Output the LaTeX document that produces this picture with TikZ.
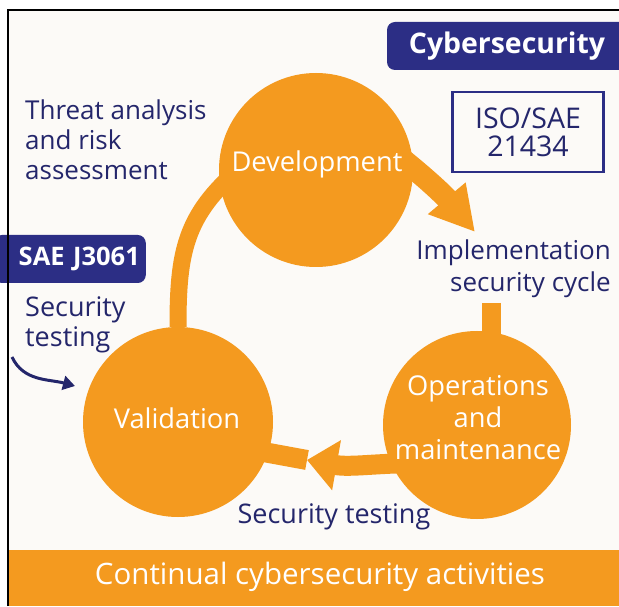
\documentclass[tikz,border=0pt]{standalone}
\usepackage{fontspec}
\setmainfont{Open Sans}
\usetikzlibrary{arrows.meta}
\pgfdeclarelayer{paper}
\pgfdeclarelayer{bands}
\pgfsetlayers{paper,bands,main}
\definecolor{cyberorange}{HTML}{F49A1F}
\definecolor{cybernavy}{HTML}{2C2E85}
\definecolor{cybertext}{HTML}{24266B}
\definecolor{cyberpaper}{HTML}{FCFAF7}
\begin{document}
\begin{tikzpicture}[x=1pt,y=1pt,
            phase/.style={circle, fill=cyberorange, inner sep=0pt},
            phasetext/.style={text=white, align=center, inner sep=0pt, font=\fontsize{27.3}{32}\selectfont},
            band/.style={draw=cyberorange, line width=20pt},
            note/.style={text=cybertext, inner sep=0pt, font=\fontsize{26}{30}\selectfont},
            tag/.style={fill=cybernavy, text=white, rounded corners=8pt}
        ]
            \clip (0,0) rectangle (619,606);
            \begin{pgfonlayer}{paper}
            \fill[white] (0,0) rectangle (619,606);
            \fill[cyberpaper] (8,0) rectangle (619,596);
            \end{pgfonlayer}
            % phases
            \node[phase, minimum size=194pt] (dev) at (316,436) {};
            \node[phase, minimum size=190pt] (val) at (178,184) {};
            \node[phase, minimum size=188pt] (ops) at (477,181) {};
            \node[phasetext] (devtext) at (317,442) {Development};
            \node[phasetext] (valtext) at (177,188) {Validation};
            \node[phasetext] (opstext) at (478,188) {Operations\\and\\maintenance};
            % labels round the cycle
            \node[note, anchor=east, align=right, font=\fontsize{26}{32}\selectfont] (impl) at (611,337) {Implementation\\security cycle};
            \node[note, font=\fontsize{27}{30}\selectfont] (bottest) at (334,89) {Security testing};
            \node[note, anchor=west, align=left] (threat) at (25,466) {Threat analysis\\and risk\\assessment};
            \node[note, anchor=west, align=left, font=\fontsize{27}{30}\selectfont] (lefttest) at (25,281) {Security\\testing};
            \coordinate (impltip) at (475,374);
            \coordinate (stubtop) at (491,303);
            \coordinate (bottip) at (307,146);
            \coordinate (navystart) at (12,249);
            \coordinate (navytip) at (75,220);
            % orange bands behind the circles
            \begin{pgfonlayer}{bands}
            \draw[band, line width=22pt, -{Triangle[length=44pt, width=46pt]}]
                ([shift={(20:73pt)}]dev.center) to[out=-38, in=130] (impltip);
            \draw[band, line width=19pt] (stubtop) -- (stubtop |- ops.center);
            \draw[band, line width=17pt] ([shift={(178:75pt)}]dev.center) to[out=-140, in=90, looseness=1.1] (val.north);
            \draw[band, -{Triangle[length=30pt, width=49pt]}]
                ([shift={(214:68pt)}]ops.center) to[out=180, in=-10] (bottip);
            \draw[band] (bottip) -- ([shift={(-22:70pt)}]val.center);
            \end{pgfonlayer}
            % standards
            \node[tag, minimum width=240pt, minimum height=48pt, font=\bfseries\fontsize{28.4}{30}\selectfont] (cyber) at (507,560) {Cybersecurity};
            \node[tag, anchor=east, minimum height=48pt, text width=140pt, align=right, inner xsep=6pt, font=\bfseries\fontsize{25.5}{30}\selectfont] (sae) at (146,347) {SAE J3061};
            \node[
                draw = cybernavy,
                line width = 2.5pt,
                minimum width = 151pt,
                minimum height = 80pt,
                align = center,
                text = cybertext,
                font = \fontsize{28.5}{28}\selectfont
            ] (iso) at (528,474) {ISO/SAE\\21434};
            \draw[cybertext, line width=3pt, -{Triangle[length=12pt, width=14pt]}]
                (navystart) to[out=-65, in=165] (navytip);
            % bar at the foot
            \fill[cyberorange] (8,0) rectangle (619,56);
            \node[text=white, font=\fontsize{29.5}{30}\selectfont] (bar) at (320,29) {Continual cybersecurity activities};
            \draw[line width=1.5pt] (8,0) -- (8,596) -- (619,596);
        \end{tikzpicture}
\end{document}
